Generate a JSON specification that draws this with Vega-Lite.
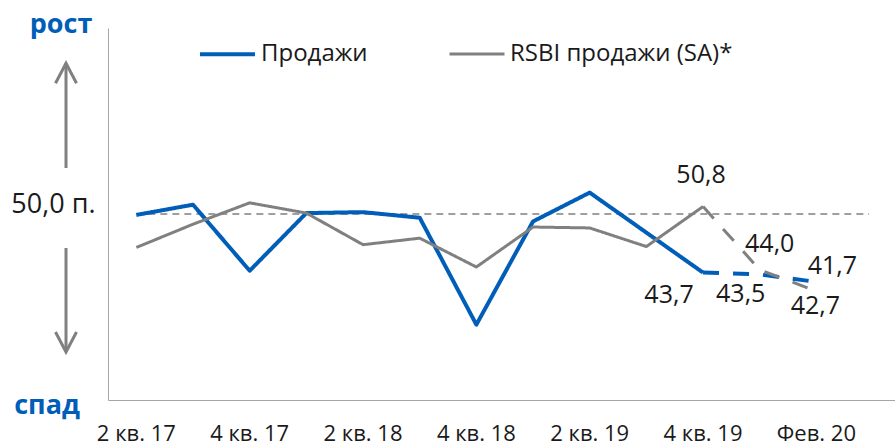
{
  "$schema": "https://vega.github.io/schema/vega-lite/v6.json",
  "background": "white",
  "autosize": {"type": "none"},
  "padding": {"left": 108, "top": 28, "right": 0, "bottom": 48},
  "width": 787,
  "height": 372,
  "config": {
    "view": {"stroke": null},
    "font": "Open Sans",
    "text": {"font": "Open Sans"},
    "axisX": {"labelAngle": 0, "labelOverlap": false, "ticks": false, "grid": false, "domainColor": "#A6A6A6", "domainWidth": 1, "labelFont": "Open Sans", "labelFontSize": 22, "labelColor": "#1a1a1a", "labelPadding": 23},
    "axisY": {"ticks": false, "grid": false, "domainColor": "#A6A6A6", "domainWidth": 1, "labelFont": "Open Sans", "labelFontSize": 27, "labelColor": "#1a1a1a", "labelPadding": 13, "labelBaseline": "alphabetic", "labelOffset": -2}
  },
  "datasets": {
    "sales": [
      {"period": "2 кв. 17", "series": "Продажи", "part": "факт", "value": 49.9},
      {"period": "3 кв. 17", "series": "Продажи", "part": "факт", "value": 51.0},
      {"period": "4 кв. 17", "series": "Продажи", "part": "факт", "value": 43.9},
      {"period": "1 кв. 18", "series": "Продажи", "part": "факт", "value": 50.1},
      {"period": "2 кв. 18", "series": "Продажи", "part": "факт", "value": 50.2},
      {"period": "3 кв. 18", "series": "Продажи", "part": "факт", "value": 49.6},
      {"period": "4 кв. 18", "series": "Продажи", "part": "факт", "value": 38.1},
      {"period": "1 кв. 19", "series": "Продажи", "part": "факт", "value": 49.2},
      {"period": "2 кв. 19", "series": "Продажи", "part": "факт", "value": 52.3},
      {"period": "3 кв. 19", "series": "Продажи", "part": "факт", "value": 48.0},
      {"period": "4 кв. 19", "series": "Продажи", "part": "факт", "value": 43.7, "label": "43,7"},
      {"period": "4 кв. 19", "series": "Продажи", "part": "оценка", "value": 43.7},
      {"period": "Янв. 20", "series": "Продажи", "part": "оценка", "value": 43.5, "label": "43,5"},
      {"period": "Фев. 20", "series": "Продажи", "part": "оценка", "value": 42.7, "label": "41,7"},
      {"period": "2 кв. 17", "series": "RSBI продажи (SA)*", "part": "факт", "value": 46.4},
      {"period": "3 кв. 17", "series": "RSBI продажи (SA)*", "part": "факт", "value": 48.9},
      {"period": "4 кв. 17", "series": "RSBI продажи (SA)*", "part": "факт", "value": 51.2},
      {"period": "1 кв. 18", "series": "RSBI продажи (SA)*", "part": "факт", "value": 50.1},
      {"period": "2 кв. 18", "series": "RSBI продажи (SA)*", "part": "факт", "value": 46.7},
      {"period": "3 кв. 18", "series": "RSBI продажи (SA)*", "part": "факт", "value": 47.4},
      {"period": "4 кв. 18", "series": "RSBI продажи (SA)*", "part": "факт", "value": 44.3},
      {"period": "1 кв. 19", "series": "RSBI продажи (SA)*", "part": "факт", "value": 48.6},
      {"period": "2 кв. 19", "series": "RSBI продажи (SA)*", "part": "факт", "value": 48.5},
      {"period": "3 кв. 19", "series": "RSBI продажи (SA)*", "part": "факт", "value": 46.5},
      {"period": "4 кв. 19", "series": "RSBI продажи (SA)*", "part": "факт", "value": 50.8, "label": "50,8"},
      {"period": "4 кв. 19", "series": "RSBI продажи (SA)*", "part": "оценка", "value": 50.8},
      {"period": "Янв. 20", "series": "RSBI продажи (SA)*", "part": "оценка", "value": 44.0, "label": "44,0"},
      {"period": "Фев. 20", "series": "RSBI продажи (SA)*", "part": "оценка", "value": 41.7, "label": "42,7"}
    ]
  },
  "layer": [
    {
      "data": {"values": [{}]},
      "mark": {"type": "rule", "color": "#808080", "strokeWidth": 3},
      "encoding": {
        "x": {"datum": "2 кв. 17", "type": "nominal", "bandPosition": -0.741,
              "scale": {"type": "band", "domain": ["2 кв. 17","3 кв. 17","4 кв. 17","1 кв. 18","2 кв. 18","3 кв. 18","4 кв. 18","1 кв. 19","2 кв. 19","3 кв. 19","4 кв. 19","Янв. 20","Фев. 20"], "paddingInner": 0, "paddingOuter": 0.4436, "align": 0},
              "axis": {"title": null, "values": ["2 кв. 17","4 кв. 17","2 кв. 18","4 кв. 18","2 кв. 19","4 кв. 19","Фев. 20"]}},
        "y": {"datum": 66.2, "type": "quantitative", "scale": {"domain": [30, 70], "nice": false, "zero": false},
              "axis": {"title": null, "values": [50], "labelExpr": "replace(format(datum.value, '.1f'), '.', ',') + ' п.'"}},
        "y2": {"datum": 54.95}
      }
    },
    {
      "data": {"values": [{}]},
      "mark": {"type": "rule", "color": "#808080", "strokeWidth": 3},
      "encoding": {
        "x": {"datum": "2 кв. 17", "type": "nominal", "bandPosition": -0.741,
              "scale": {"type": "band", "domain": ["2 кв. 17","3 кв. 17","4 кв. 17","1 кв. 18","2 кв. 18","3 кв. 18","4 кв. 18","1 кв. 19","2 кв. 19","3 кв. 19","4 кв. 19","Янв. 20","Фев. 20"], "paddingInner": 0, "paddingOuter": 0.4436, "align": 0},
              "axis": {"title": null, "values": ["2 кв. 17","4 кв. 17","2 кв. 18","4 кв. 18","2 кв. 19","4 кв. 19","Фев. 20"]}},
        "y": {"datum": 46.34, "type": "quantitative", "scale": {"domain": [30, 70], "nice": false, "zero": false},
              "axis": {"title": null, "values": [50], "labelExpr": "replace(format(datum.value, '.1f'), '.', ',') + ' п.'"}},
        "y2": {"datum": 35.16}
      }
    },
    {
      "data": {"values": [{}]},
      "mark": {"type": "point", "shape": "M-1,1.9L0,0L1,1.9", "filled": false, "color": "#808080", "strokeWidth": 3, "size": 441, "opacity": 1},
      "encoding": {
        "x": {"datum": "2 кв. 17", "type": "nominal", "bandPosition": -0.741,
              "scale": {"type": "band", "domain": ["2 кв. 17","3 кв. 17","4 кв. 17","1 кв. 18","2 кв. 18","3 кв. 18","4 кв. 18","1 кв. 19","2 кв. 19","3 кв. 19","4 кв. 19","Янв. 20","Фев. 20"], "paddingInner": 0, "paddingOuter": 0.4436, "align": 0},
              "axis": {"title": null, "values": ["2 кв. 17","4 кв. 17","2 кв. 18","4 кв. 18","2 кв. 19","4 кв. 19","Фев. 20"]}},
        "y": {"datum": 66.2, "type": "quantitative", "scale": {"domain": [30, 70], "nice": false, "zero": false},
              "axis": {"title": null, "values": [50], "labelExpr": "replace(format(datum.value, '.1f'), '.', ',') + ' п.'"}}
      }
    },
    {
      "data": {"values": [{}]},
      "mark": {"type": "point", "shape": "M-1,-1.9L0,0L1,-1.9", "filled": false, "color": "#808080", "strokeWidth": 3, "size": 441, "opacity": 1},
      "encoding": {
        "x": {"datum": "2 кв. 17", "type": "nominal", "bandPosition": -0.741,
              "scale": {"type": "band", "domain": ["2 кв. 17","3 кв. 17","4 кв. 17","1 кв. 18","2 кв. 18","3 кв. 18","4 кв. 18","1 кв. 19","2 кв. 19","3 кв. 19","4 кв. 19","Янв. 20","Фев. 20"], "paddingInner": 0, "paddingOuter": 0.4436, "align": 0},
              "axis": {"title": null, "values": ["2 кв. 17","4 кв. 17","2 кв. 18","4 кв. 18","2 кв. 19","4 кв. 19","Фев. 20"]}},
        "y": {"datum": 35.16, "type": "quantitative", "scale": {"domain": [30, 70], "nice": false, "zero": false},
              "axis": {"title": null, "values": [50], "labelExpr": "replace(format(datum.value, '.1f'), '.', ',') + ' п.'"}}
      }
    },
    {
      "data": {"values": [{}]},
      "mark": {"type": "text", "text": "рост", "font": "Open Sans", "fontSize": 27, "fontWeight": "bold", "color": "#005EB8", "baseline": "alphabetic", "align": "center"},
      "encoding": {
        "x": {"datum": "2 кв. 17", "type": "nominal", "bandPosition": -0.829,
              "scale": {"type": "band", "domain": ["2 кв. 17","3 кв. 17","4 кв. 17","1 кв. 18","2 кв. 18","3 кв. 18","4 кв. 18","1 кв. 19","2 кв. 19","3 кв. 19","4 кв. 19","Янв. 20","Фев. 20"], "paddingInner": 0, "paddingOuter": 0.4436, "align": 0},
              "axis": {"title": null, "values": ["2 кв. 17","4 кв. 17","2 кв. 18","4 кв. 18","2 кв. 19","4 кв. 19","Фев. 20"]}},
        "y": {"datum": 69.46, "type": "quantitative", "scale": {"domain": [30, 70], "nice": false, "zero": false},
              "axis": {"title": null, "values": [50], "labelExpr": "replace(format(datum.value, '.1f'), '.', ',') + ' п.'"}}
      }
    },
    {
      "data": {"values": [{}]},
      "mark": {"type": "text", "text": "спад", "font": "Open Sans", "fontSize": 27, "fontWeight": "bold", "color": "#005EB8", "baseline": "alphabetic", "align": "center"},
      "encoding": {
        "x": {"datum": "2 кв. 17", "type": "nominal", "bandPosition": -1.076,
              "scale": {"type": "band", "domain": ["2 кв. 17","3 кв. 17","4 кв. 17","1 кв. 18","2 кв. 18","3 кв. 18","4 кв. 18","1 кв. 19","2 кв. 19","3 кв. 19","4 кв. 19","Янв. 20","Фев. 20"], "paddingInner": 0, "paddingOuter": 0.4436, "align": 0},
              "axis": {"title": null, "values": ["2 кв. 17","4 кв. 17","2 кв. 18","4 кв. 18","2 кв. 19","4 кв. 19","Фев. 20"]}},
        "y": {"datum": 28.5, "type": "quantitative", "scale": {"domain": [30, 70], "nice": false, "zero": false},
              "axis": {"title": null, "values": [50], "labelExpr": "replace(format(datum.value, '.1f'), '.', ',') + ' п.'"}}
      }
    },
    {
      "data": {"values": [{}]},
      "mark": {"type": "rule", "color": "#808080", "strokeWidth": 1.5, "strokeDash": [7, 5]},
      "encoding": {
        "x": {"datum": "2 кв. 17", "type": "nominal", "bandPosition": 0.5,
              "scale": {"type": "band", "domain": ["2 кв. 17","3 кв. 17","4 кв. 17","1 кв. 18","2 кв. 18","3 кв. 18","4 кв. 18","1 кв. 19","2 кв. 19","3 кв. 19","4 кв. 19","Янв. 20","Фев. 20"], "paddingInner": 0, "paddingOuter": 0.4436, "align": 0},
              "axis": {"title": null, "values": ["2 кв. 17","4 кв. 17","2 кв. 18","4 кв. 18","2 кв. 19","4 кв. 19","Фев. 20"]}},
        "x2": {"datum": "Фев. 20", "bandPosition": 1.43},
        "y": {"datum": 50, "type": "quantitative", "scale": {"domain": [30, 70], "nice": false, "zero": false},
              "axis": {"title": null, "values": [50], "labelExpr": "replace(format(datum.value, '.1f'), '.', ',') + ' п.'"}}
      }
    },
    {
      "data": {"name": "sales"},
      "encoding": {
        "x": {"field": "period", "type": "nominal", "sort": null,
              "scale": {"type": "band", "domain": ["2 кв. 17","3 кв. 17","4 кв. 17","1 кв. 18","2 кв. 18","3 кв. 18","4 кв. 18","1 кв. 19","2 кв. 19","3 кв. 19","4 кв. 19","Янв. 20","Фев. 20"], "paddingInner": 0, "paddingOuter": 0.4436, "align": 0},
              "axis": {"title": null, "values": ["2 кв. 17","4 кв. 17","2 кв. 18","4 кв. 18","2 кв. 19","4 кв. 19","Фев. 20"]}},
        "y": {"field": "value", "type": "quantitative", "scale": {"domain": [30, 70], "nice": false, "zero": false},
              "axis": {"title": null, "values": [50], "labelExpr": "replace(format(datum.value, '.1f'), '.', ',') + ' п.'"}}
      },
      "layer": [
        {
          "mark": {"type": "line", "strokeJoin": "round"},
          "encoding": {
            "color": {"field": "series", "type": "nominal",
                      "scale": {"domain": ["Продажи", "RSBI продажи (SA)*"], "range": ["#005EB8", "#808080"]},
                      "legend": {"title": null, "orient": "none", "legendX": 90, "legendY": -3.5, "direction": "horizontal", "symbolType": "stroke", "symbolSize": 3025, "symbolStrokeWidth": 4, "labelFont": "Open Sans", "labelFontSize": 24, "labelColor": "#1a1a1a", "labelOffset": 4, "columnPadding": 75, "padding": 0, "labelLimit": 400}},
            "strokeDash": {"field": "part", "type": "nominal", "scale": {"domain": ["факт", "оценка"], "range": [[1, 0], [16, 14]]}, "legend": null},
            "strokeWidth": {"field": "series", "type": "nominal", "scale": {"domain": ["Продажи", "RSBI продажи (SA)*"], "range": [4, 3]}, "legend": null}
          }
        },
        {
          "transform": [{"filter": "datum.label === '50,8'"}],
          "mark": {"type": "text", "font": "Open Sans", "fontSize": 25, "color": "#1a1a1a", "baseline": "middle", "align": "center", "dx": -2, "dy": -32},
          "encoding": {"text": {"field": "label"}}
        },
        {
          "transform": [{"filter": "datum.label === '44,0'"}],
          "mark": {"type": "text", "font": "Open Sans", "fontSize": 25, "color": "#1a1a1a", "baseline": "middle", "align": "center", "dx": 10, "dy": -26},
          "encoding": {"text": {"field": "label"}}
        },
        {
          "transform": [{"filter": "datum.label === '43,7'"}],
          "mark": {"type": "text", "font": "Open Sans", "fontSize": 25, "color": "#1a1a1a", "baseline": "middle", "align": "center", "dx": -34, "dy": 22},
          "encoding": {"text": {"field": "label"}}
        },
        {
          "transform": [{"filter": "datum.label === '43,5'"}],
          "mark": {"type": "text", "font": "Open Sans", "fontSize": 25, "color": "#1a1a1a", "baseline": "middle", "align": "center", "dx": -19, "dy": 20},
          "encoding": {"text": {"field": "label"}}
        },
        {
          "transform": [{"filter": "datum.label === '41,7'"}],
          "mark": {"type": "text", "font": "Open Sans", "fontSize": 25, "color": "#1a1a1a", "baseline": "middle", "align": "center", "dx": 16, "dy": -16},
          "encoding": {"text": {"field": "label"}}
        },
        {
          "transform": [{"filter": "datum.label === '42,7'"}],
          "mark": {"type": "text", "font": "Open Sans", "fontSize": 25, "color": "#1a1a1a", "baseline": "middle", "align": "center", "dx": -1, "dy": 15},
          "encoding": {"text": {"field": "label"}}
        }
      ]
    }
  ]
}
